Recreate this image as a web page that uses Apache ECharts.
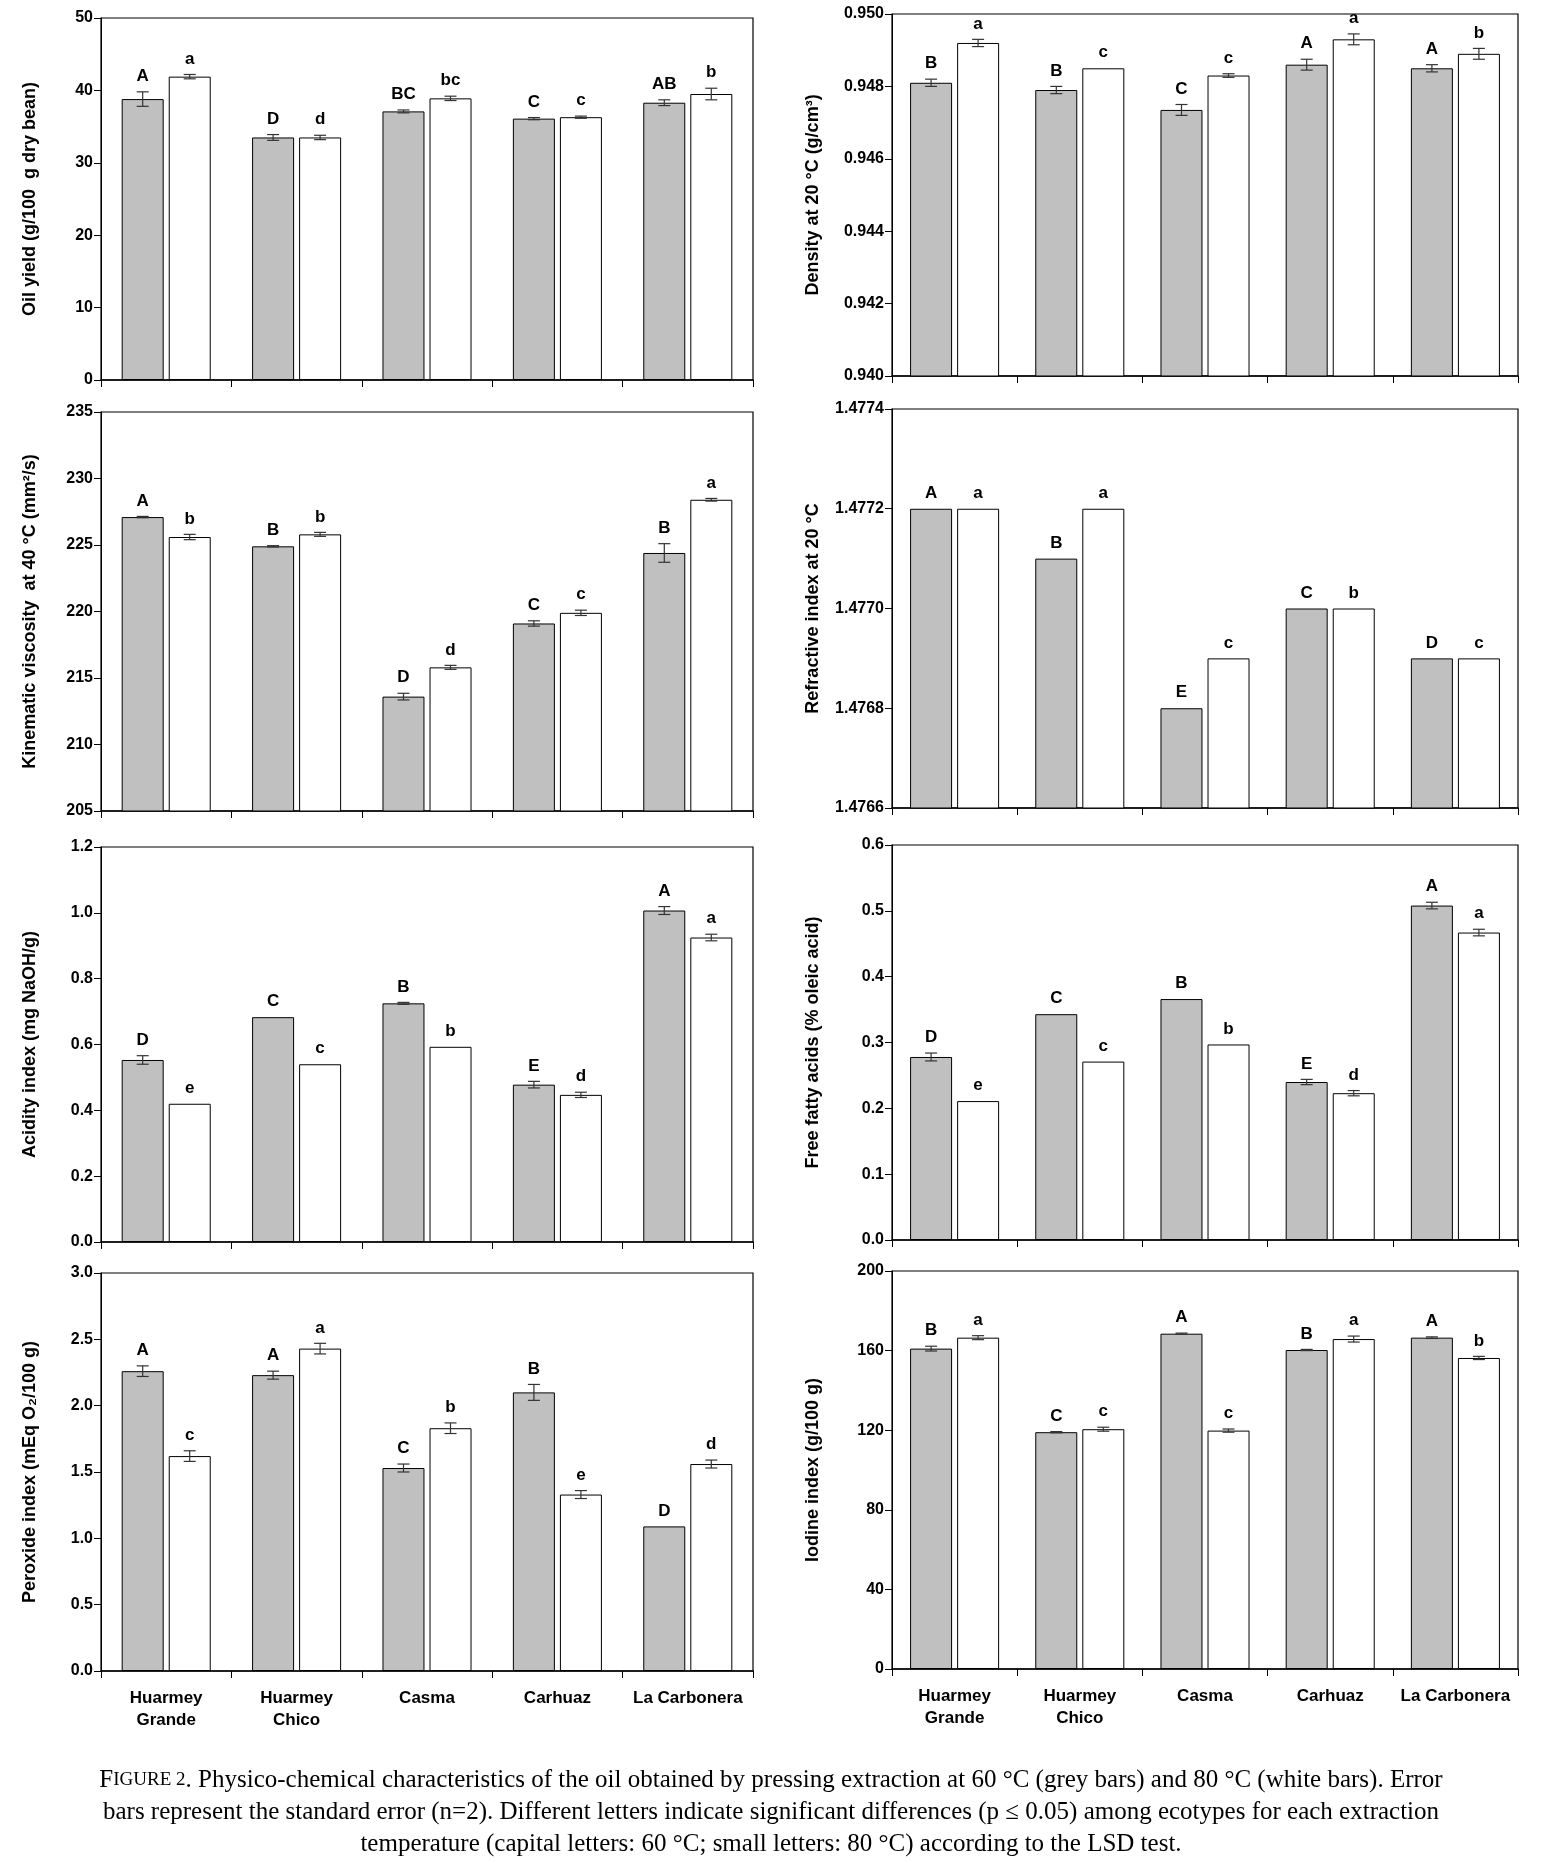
<!DOCTYPE html><html><head><meta charset="utf-8">
<script src="https://cdn.jsdelivr.net/npm/echarts@6/dist/echarts.min.js"></script>
<style>html,body{margin:0;padding:0;background:#fff}#c{width:1542px;height:1863px}</style></head><body><div id="c"></div>
<script>
const categories=['Huarmey\nGrande','Huarmey\nChico','Casma','Carhuaz','La Carbonera'];
const oilG=[38.8,33.5,37.1,36.1,38.3], oilGe=[1.0,0.4,0.2,0.15,0.4], oilW=[41.9,33.5,38.9,36.3,39.5], oilWe=[0.3,0.3,0.3,0.15,0.8];
const oilLG=['A','D','BC','C','AB'], oilLW=['a','d','bc','c','b'];
const denG=[0.9481,0.9479,0.94735,0.9486,0.9485], denGe=[0.0001,0.0001,0.00015,0.00015,0.0001], denW=[0.9492,0.9485,0.9483,0.9493,0.9489], denWe=[0.0001,0,0.00005,0.00015,0.00015];
const denLG=['B','B','C','A','A'], denLW=['a','c','c','a','b'];
const visG=[227.1,224.9,213.6,219.1,224.4], visGe=[0.05,0.05,0.25,0.2,0.7], visW=[225.6,225.8,215.8,219.9,228.4], visWe=[0.2,0.15,0.15,0.2,0.1];
const visLG=['A','B','D','C','B'], visLW=['b','b','d','c','a'];
const refG=[1.4772,1.4771,1.4768,1.4770,1.4769], refGe=[0,0,0,0,0], refW=[1.4772,1.4772,1.4769,1.4770,1.4769], refWe=[0,0,0,0,0];
const refLG=['A','B','E','C','D'], refLW=['a','a','c','b','c'];
const acG=[0.553,0.683,0.725,0.478,1.007], acGe=[0.013,0,0.003,0.01,0.012], acW=[0.42,0.54,0.593,0.447,0.925], acWe=[0,0,0,0.008,0.01];
const acLG=['D','C','B','E','A'], acLW=['e','c','b','d','a'];
const ffaG=[0.278,0.343,0.366,0.24,0.508], ffaGe=[0.006,0,0,0.004,0.005], ffaW=[0.211,0.271,0.297,0.223,0.467], ffaWe=[0,0,0,0.004,0.005];
const ffaLG=['D','C','B','E','A'], ffaLW=['e','c','b','d','a'];
const perG=[2.26,2.23,1.53,2.1,1.09], perGe=[0.04,0.03,0.03,0.06,0], perW=[1.62,2.43,1.83,1.33,1.56], perWe=[0.04,0.04,0.04,0.03,0.03];
const perLG=['A','A','C','B','D'], perLW=['c','a','b','e','d'];
const iodG=[161,119,168.5,160.3,166.5], iodGe=[1.2,0.3,0.3,0.3,0.4], iodW=[166.5,120.5,119.8,165.8,156.3], iodWe=[1,1,0.8,1.5,0.8];
const iodLG=['B','C','A','B','A'], iodLW=['a','c','c','a','b'];

const panels=[
 {name:'Oil yield (g/100  g dry bean)',min:0,max:50,int:10,dec:0,g:oilG,ge:oilGe,w:oilW,we:oilWe,lg:oilLG,lw:oilLW,box:[101,18,753,380]},
 {name:'Density at 20 °C (g/cm³)',min:0.940,max:0.950,int:0.002,dec:3,g:denG,ge:denGe,w:denW,we:denWe,lg:denLG,lw:denLW,box:[892,14,1518,376]},
 {name:'Kinematic viscosity  at 40 °C (mm²/s)',min:205,max:235,int:5,dec:0,g:visG,ge:visGe,w:visW,we:visWe,lg:visLG,lw:visLW,box:[101,412,753,811]},
 {name:'Refractive index at 20 °C',min:1.4766,max:1.4774,int:0.0002,dec:4,g:refG,ge:refGe,w:refW,we:refWe,lg:refLG,lw:refLW,box:[892,409,1518,808]},
 {name:'Acidity index (mg NaOH/g)',min:0,max:1.2,int:0.2,dec:1,g:acG,ge:acGe,w:acW,we:acWe,lg:acLG,lw:acLW,box:[101,847,753,1242]},
 {name:'Free fatty acids (% oleic acid)',min:0,max:0.6,int:0.1,dec:1,g:ffaG,ge:ffaGe,w:ffaW,we:ffaWe,lg:ffaLG,lw:ffaLW,box:[892,845,1518,1240]},
 {name:'Peroxide index (mEq O₂/100 g)',min:0,max:3.0,int:0.5,dec:1,g:perG,ge:perGe,w:perW,we:perWe,lg:perLG,lw:perLW,box:[101,1273,753,1671]},
 {name:'Iodine index (g/100 g)',min:0,max:200,int:40,dec:0,g:iodG,ge:iodGe,w:iodW,we:iodWe,lg:iodLG,lw:iodLW,box:[892,1271,1518,1669]}
];
const grid=[],xAxis=[],yAxis=[],series=[];
const font='"Liberation Sans", Arial, sans-serif';
panels.forEach((p,i)=>{
  const [l,t,r,b]=p.box;
  grid.push({left:l,top:t,width:r-l,height:b-t,show:true,borderColor:'#000',borderWidth:1.2});
  xAxis.push({type:'category',gridIndex:i,data:categories,
    axisLine:{lineStyle:{color:'#000',width:1.5}},axisTick:{show:true,inside:false,length:7,lineStyle:{color:'#000'}},
    axisLabel:{show:i>=6,color:'#000',fontFamily:font,fontWeight:'bold',fontSize:17,lineHeight:22,margin:16,interval:0}});
  yAxis.push({type:'value',gridIndex:i,min:p.min,max:p.max,interval:p.int,
    name:p.name,nameLocation:'middle',nameGap:i%2==0?62:70,nameRotate:90,
    nameTextStyle:{color:'#000',fontFamily:font,fontWeight:'bold',fontSize:18},
    splitLine:{show:false},axisLine:{show:true,lineStyle:{color:'#000'}},
    axisTick:{show:true,length:7,lineStyle:{color:'#000'}},
    axisLabel:{color:'#000',fontFamily:font,fontWeight:'bold',fontSize:16,formatter:v=>v.toFixed(p.dec)}});
  series.push({type:'bar',xAxisIndex:i,yAxisIndex:i,data:p.g,barWidth:42,barGap:'12%',
    itemStyle:{color:'#c0c0c0',borderColor:'#000',borderWidth:1},silent:true});
  series.push({type:'bar',xAxisIndex:i,yAxisIndex:i,data:p.w,barWidth:42,barGap:'12%',
    itemStyle:{color:'#fff',borderColor:'#000',borderWidth:1},silent:true});
  const cd=[];
  p.g.forEach((v,k)=>cd.push([k,v,p.ge[k],-1,p.lg[k]]));
  p.w.forEach((v,k)=>cd.push([k,v,p.we[k],1,p.lw[k]]));
  series.push({type:'custom',xAxisIndex:i,yAxisIndex:i,data:cd,silent:true,z:5,
    renderItem:(params,api)=>{
      const k=api.value(0),v=api.value(1),e=api.value(2),s=api.value(3);
      const d=cd[params.dataIndex];
      const off=s*(21+2.5);
      const c=api.coord([k,v]);const x=c[0]+off;
      const hi=api.coord([k,v+e])[1],lo=api.coord([k,v-e])[1];
      const ch=[];
      if(e>0){
        const ls={stroke:'#333',lineWidth:1.2};
        ch.push({type:'line',shape:{x1:x,y1:hi,x2:x,y2:lo},style:ls});
        ch.push({type:'line',shape:{x1:x-6,y1:hi,x2:x+6,y2:hi},style:ls});
        ch.push({type:'line',shape:{x1:x-6,y1:lo,x2:x+6,y2:lo},style:ls});
      }
      ch.push({type:'text',x:x,y:hi-7,style:{text:d[4],fill:'#000',font:'bold 17px '+font,align:'center',verticalAlign:'bottom'}});
      return {type:'group',children:ch};
    }});
});
const cf='"Liberation Serif", "Times New Roman", serif';
const cap={fontFamily:cf,fontSize:25,fill:'#000'};
const chart=echarts.init(document.getElementById('c'),null,{renderer:'canvas'});
chart.setOption({animation:false,backgroundColor:'#fff',grid,xAxis,yAxis,series,
 graphic:[
  {type:'text',left:'center',top:1768,style:{text:'{sc1|F}{sc2|IGURE 2}{n|. Physico-chemical characteristics of the oil obtained by pressing extraction at 60 °C (grey bars) and 80 °C (white bars). Error}',rich:{sc1:{...cap,fontSize:25},sc2:{...cap,fontSize:19},n:cap}}},
  {type:'text',left:'center',top:1800,style:{text:'bars represent the standard error (n=2). Different letters indicate significant differences (p ≤ 0.05) among ecotypes for each extraction',fill:'#000',font:'25px '+cf}},
  {type:'text',left:'center',top:1832,style:{text:'temperature (capital letters: 60 °C; small letters: 80 °C) according to the LSD test.',fill:'#000',font:'25px '+cf}}
 ]});
</script></body></html>
